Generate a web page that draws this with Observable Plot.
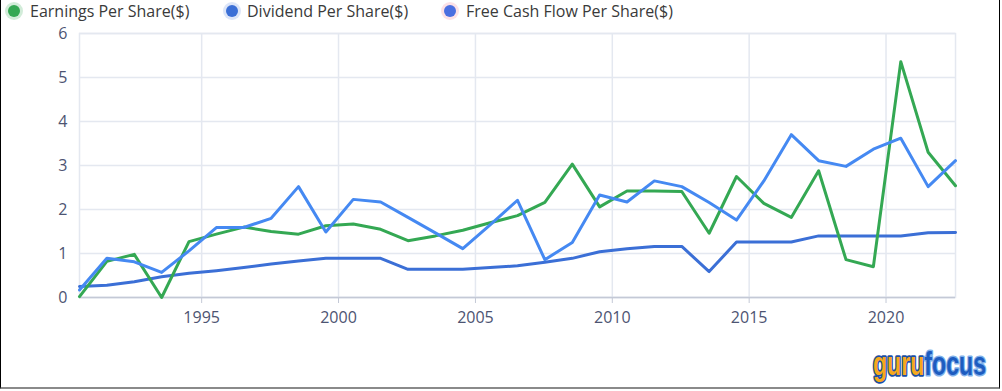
<!DOCTYPE html>
<html>
<head>
<meta charset="utf-8">
<script src="https://cdn.jsdelivr.net/npm/d3@7"></script>
<script src="https://cdn.jsdelivr.net/npm/@observablehq/plot@0.6"></script>
<style>
  html, body { margin: 0; padding: 0; background: #fff; }
  #wrap { position: relative; width: 1002px; height: 391px; overflow: hidden; font-family: "Open Sans", "Noto Sans", sans-serif; }
  #frame { position: absolute; left: 0; top: -2px; width: 1000px; height: 391px; box-sizing: border-box;
           border-left: 1px solid #000; border-right: 1px solid #000; border-bottom: 2px solid #8a8a8a; pointer-events: none; }
  #legend { position: absolute; left: 0; top: 0; width: 1002px; height: 22px; }
  .item { position: absolute; top: 0; height: 22px; line-height: 22px; font-size: 16px; color: #3a3a3a; white-space: nowrap; }
  .dot { position: absolute; top: 5px; width: 12px; height: 12px; border-radius: 50%; box-sizing: border-box; }
  #chart { position: absolute; left: 0; top: 22px; }
  #logo { position: absolute; left: 858px; top: 332px; }
</style>
</head>
<body>
<div id="wrap">
  <div id="legend"></div>
  <div id="chart"></div>
  <div id="frame"></div>
  <svg id="logo" width="138" height="56" viewBox="0 0 138 56">
    <g transform="translate(15,0) scale(0.68,1)">
      <text x="0" y="43" font-family="'Liberation Sans Narrow','Liberation Sans',Arial,sans-serif" font-weight="bold" font-size="34"
            stroke-linejoin="round" paint-order="stroke"><tspan fill="#f6a81c" stroke="#1b4fa6" stroke-width="3.5">guru</tspan><tspan fill="#1d5cc0" stroke="#7fb0ea" stroke-width="3">focus</tspan></text>
    </g>
  </svg>
</div>
<script>
const years = [1990,1991,1992,1993,1994,1995,1996,1997,1998,1999,2000,2001,2002,2003,2004,2005,2006,2007,2008,2009,2010,2011,2012,2013,2014,2015,2016,2017,2018,2019,2020,2021,2022];
const eps = [0.02,0.82,0.98,0.00,1.27,1.44,1.60,1.50,1.44,1.63,1.67,1.55,1.29,1.40,1.53,1.70,1.86,2.16,3.03,2.06,2.42,2.42,2.41,1.46,2.75,2.14,1.82,2.88,0.86,0.70,5.36,3.30,2.54];
const dps = [0.25,0.28,0.36,0.47,0.55,0.61,0.68,0.76,0.83,0.89,0.89,0.89,0.64,0.64,0.64,0.68,0.72,0.80,0.89,1.04,1.11,1.16,1.16,0.59,1.26,1.26,1.26,1.40,1.40,1.40,1.40,1.47,1.48];
const fcf = [0.17,0.89,0.81,0.57,1.06,1.59,1.59,1.80,2.52,1.49,2.23,2.17,1.82,1.47,1.11,1.65,2.21,0.86,1.25,2.33,2.17,2.65,2.52,2.16,1.76,2.65,3.70,3.11,2.98,3.37,3.62,2.52,3.11];
const seriesNames = ["Earnings Per Share($)", "Dividend Per Share($)", "Free Cash Flow Per Share($)"];
const seriesColors = ["#34a853", "#3b6fd6", "#4589f2"];
const xTickYears = [1995, 2000, 2005, 2010, 2015, 2020];
const yTicks = [0, 1, 2, 3, 4, 5, 6];

// legend
const legend = document.getElementById("legend");
const dotX = [8, 226, 444];
const textX = [30, 247, 466];
const halos = ["rgba(52,168,83,0.22)", "rgba(59,111,214,0.18)", "rgba(240,120,140,0.22)"];
const dotColors = ["#34a853", "#3b6fd6", "#4a6fe0"];
seriesNames.forEach((name, i) => {
  const d = document.createElement("div");
  d.className = "dot";
  d.style.left = dotX[i] + "px";
  d.style.background = dotColors[i];
  d.style.boxShadow = `0 0 0 3px ${halos[i]}`;
  legend.appendChild(d);
  const t = document.createElement("div");
  t.className = "item";
  t.style.left = textX[i] + "px";
  t.textContent = name;
  legend.appendChild(t);
});

const date = y => new Date(Date.UTC(y, 6, 16));
const rows = (vals, key) => years.map((y, i) => ({date: date(y), value: vals[i], series: key}));
const epsRows = rows(eps, seriesNames[0]);
const dpsRows = rows(dps, seriesNames[1]);
const fcfRows = rows(fcf, seriesNames[2]);
const xTicks = xTickYears.map(y => new Date(Date.UTC(y, 0, 1)));

const chart = Plot.plot({
  width: 1002,
  height: 330,
  marginLeft: 79,
  marginRight: 47,
  marginTop: 11,
  marginBottom: 55,
  style: {fontFamily: "'Open Sans', 'Noto Sans', sans-serif", fontSize: "16px", background: "transparent"},
  x: {type: "utc", domain: [date(years[0]), date(years[years.length - 1])], label: null},
  y: {domain: [0, 6], label: null},
  marks: [
    Plot.gridY(yTicks, {stroke: "#e4e8f0", strokeOpacity: 1, strokeWidth: 1.5}),
    Plot.gridX(xTicks, {stroke: "#e4e8f0", strokeOpacity: 1, strokeWidth: 1.5}),
    Plot.frame({stroke: "#e4e8f0", strokeWidth: 1.5}),
    Plot.axisY(yTicks, {tickSize: 0, tickPadding: 12, fill: "#4d5472", fontSize: 16, label: null, tickFormat: d => String(d)}),
    Plot.axisX(xTicks, {tickSize: 6, stroke: "#c4c9d6", tickPadding: 8, fill: "#4d5472", fontSize: 16, label: null, tickFormat: d => String(d.getUTCFullYear())}),
    Plot.ruleY([0], {stroke: "#c4c9d6", strokeWidth: 1.5}),
    Plot.lineY(dpsRows, {x: "date", y: "value", stroke: seriesColors[1], strokeWidth: 3}),
    Plot.lineY(epsRows, {x: "date", y: "value", stroke: seriesColors[0], strokeWidth: 3}),
    Plot.lineY(fcfRows, {x: "date", y: "value", stroke: seriesColors[2], strokeWidth: 3})
  ]
});
document.getElementById("chart").appendChild(chart);
</script>
</body>
</html>
